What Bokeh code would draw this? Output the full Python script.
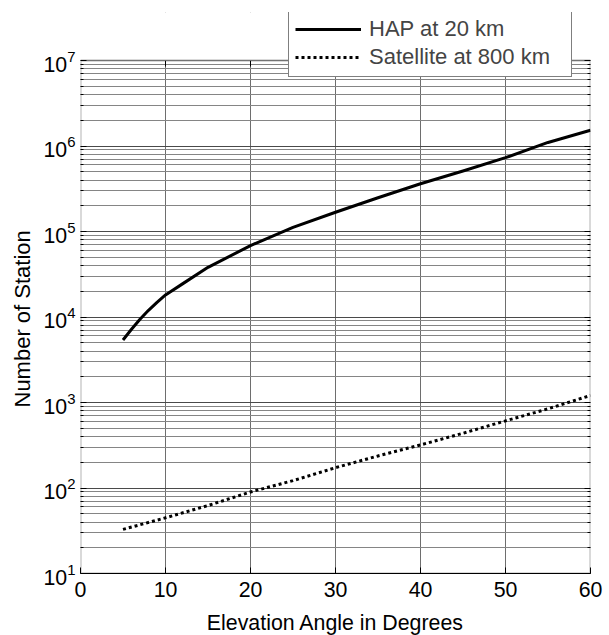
import math
from bokeh.plotting import figure
from bokeh.models import (LogAxis, Legend, LegendItem, FixedTicker, Range1d,
                          BoxAnnotation, Title)
from bokeh.embed import file_html
from bokeh.resources import INLINE

# Elevation angle (degrees) and number of stations
angles_hap = [5, 6, 7, 8, 9, 10, 12, 15, 20, 25, 30, 35, 40, 45, 50, 55, 60]
stations_hap = [5380, 7180, 9400, 11970, 14830, 18100, 24400, 38100, 68400, 112000,
                168000, 248000, 362000, 510000, 730000, 1100000, 1530000]

angles_sat = [5, 10, 15, 20, 25, 30, 35, 40, 45, 50, 55, 60]
stations_sat = [32.8, 44.8, 62.4, 89.8, 122, 173, 237, 319, 437, 610, 843, 1208]

x_ticks = [0, 10, 20, 30, 40, 50, 60]
y_decades = [10, 100, 1000, 10000, 100000, 1000000, 10000000]
series_labels = ["HAP at 20 km", "Satellite at 800 km"]

FONT = "Liberation Sans"

# plot box spans 6 decades in 513 px; the frame is taller so the legend can sit above it
BOX_H = 513
FRAME_H = 561
y_top = 10 ** (1 + 6 * FRAME_H / BOX_H)
y_minor = [m * d for d in y_decades[:-1] for m in range(2, 10)]
y_ticker = FixedTicker(ticks=y_decades, minor_ticks=y_minor)

p = figure(frame_width=510, frame_height=FRAME_H, y_axis_type="log",
           x_range=Range1d(0, 60), y_range=Range1d(10, y_top),
           output_backend="svg", toolbar_location=None,
           min_border_left=80, min_border_right=15,
           min_border_top=12, min_border_bottom=60,
           background_fill_color="white", border_fill_color="white")

p.outline_line_color = None

# grids
p.xgrid.ticker = FixedTicker(ticks=x_ticks)
p.xgrid.grid_line_color = "#6e6e6e"
p.ygrid.ticker = y_ticker
p.ygrid.grid_line_color = "#4a4a4a"
p.ygrid.minor_grid_line_color = "#858585"

# axes
p.xaxis.ticker = FixedTicker(ticks=x_ticks)
p.yaxis.ticker = y_ticker
p.xaxis.axis_label = "Elevation Angle in Degrees"
for ax in p.xaxis + p.yaxis:
    ax.major_tick_line_color = "black"
    ax.minor_tick_line_color = "black"
    ax.major_tick_in = 6
    ax.major_tick_out = 0
    ax.minor_tick_in = 3
    ax.minor_tick_out = 0
    ax.major_label_text_font = FONT
    ax.major_label_text_font_size = "16pt"
    ax.major_label_text_color = "black"
    ax.axis_label_text_font = FONT
    ax.axis_label_text_font_size = "16pt"
    ax.axis_label_text_font_style = "normal"
    ax.axis_label_text_color = "black"
p.xaxis.axis_line_color = "black"
p.yaxis.axis_line_color = None
p.xaxis.minor_tick_line_color = None
p.xaxis.major_label_standoff = 8
p.xaxis.axis_label_standoff = 11
p.yaxis.major_label_standoff = 5

right = LogAxis(ticker=y_ticker, major_label_text_font_size="1px",
                major_label_text_color=None, major_label_standoff=0,
                major_tick_in=6, major_tick_out=0, minor_tick_in=3, minor_tick_out=0,
                axis_line_color=None)
p.add_layout(right, "right")

ylab = Title(text="Number of Station", align="left", offset=166,
             text_font=FONT, text_font_size="16.5pt", text_font_style="normal",
             text_color="black", standoff=11)
p.add_layout(ylab, "left")

r1 = p.line(angles_hap, stations_hap, line_color="black", line_width=3,
            line_join="round")
r2 = p.line(angles_sat, stations_sat, line_color="black", line_width=3,
            line_dash="3 3")

# white mask over the strip above the plot box, then the box itself
mask = BoxAnnotation(bottom=10000000, fill_color="white", fill_alpha=1,
                     line_color=None, level="glyph")
p.add_layout(mask)
top_ticks = p.ray(x=x_ticks[1:-1], y=[y_decades[-1]] * 5, length=6,
                  length_units="screen", angle=-math.pi / 2,
                  line_color="black", line_width=1)
box = BoxAnnotation(left=0, right=60, bottom=10, top=10000000,
                    fill_alpha=0, line_color="black", line_width=2)
p.add_layout(box)

legend = Legend(items=[LegendItem(label=series_labels[0], renderers=[r1]),
                       LegendItem(label=series_labels[1], renderers=[r2])],
                location=(208, 496), padding=6, spacing=2, margin=0,
                glyph_width=66, label_standoff=8, label_width=196,
                label_text_font=FONT, label_text_font_size="16.5pt",
                border_line_color="black", border_line_width=1,
                background_fill_color="white", background_fill_alpha=1)
p.add_layout(legend)

open("out.html", "w").write(file_html(p, INLINE))
